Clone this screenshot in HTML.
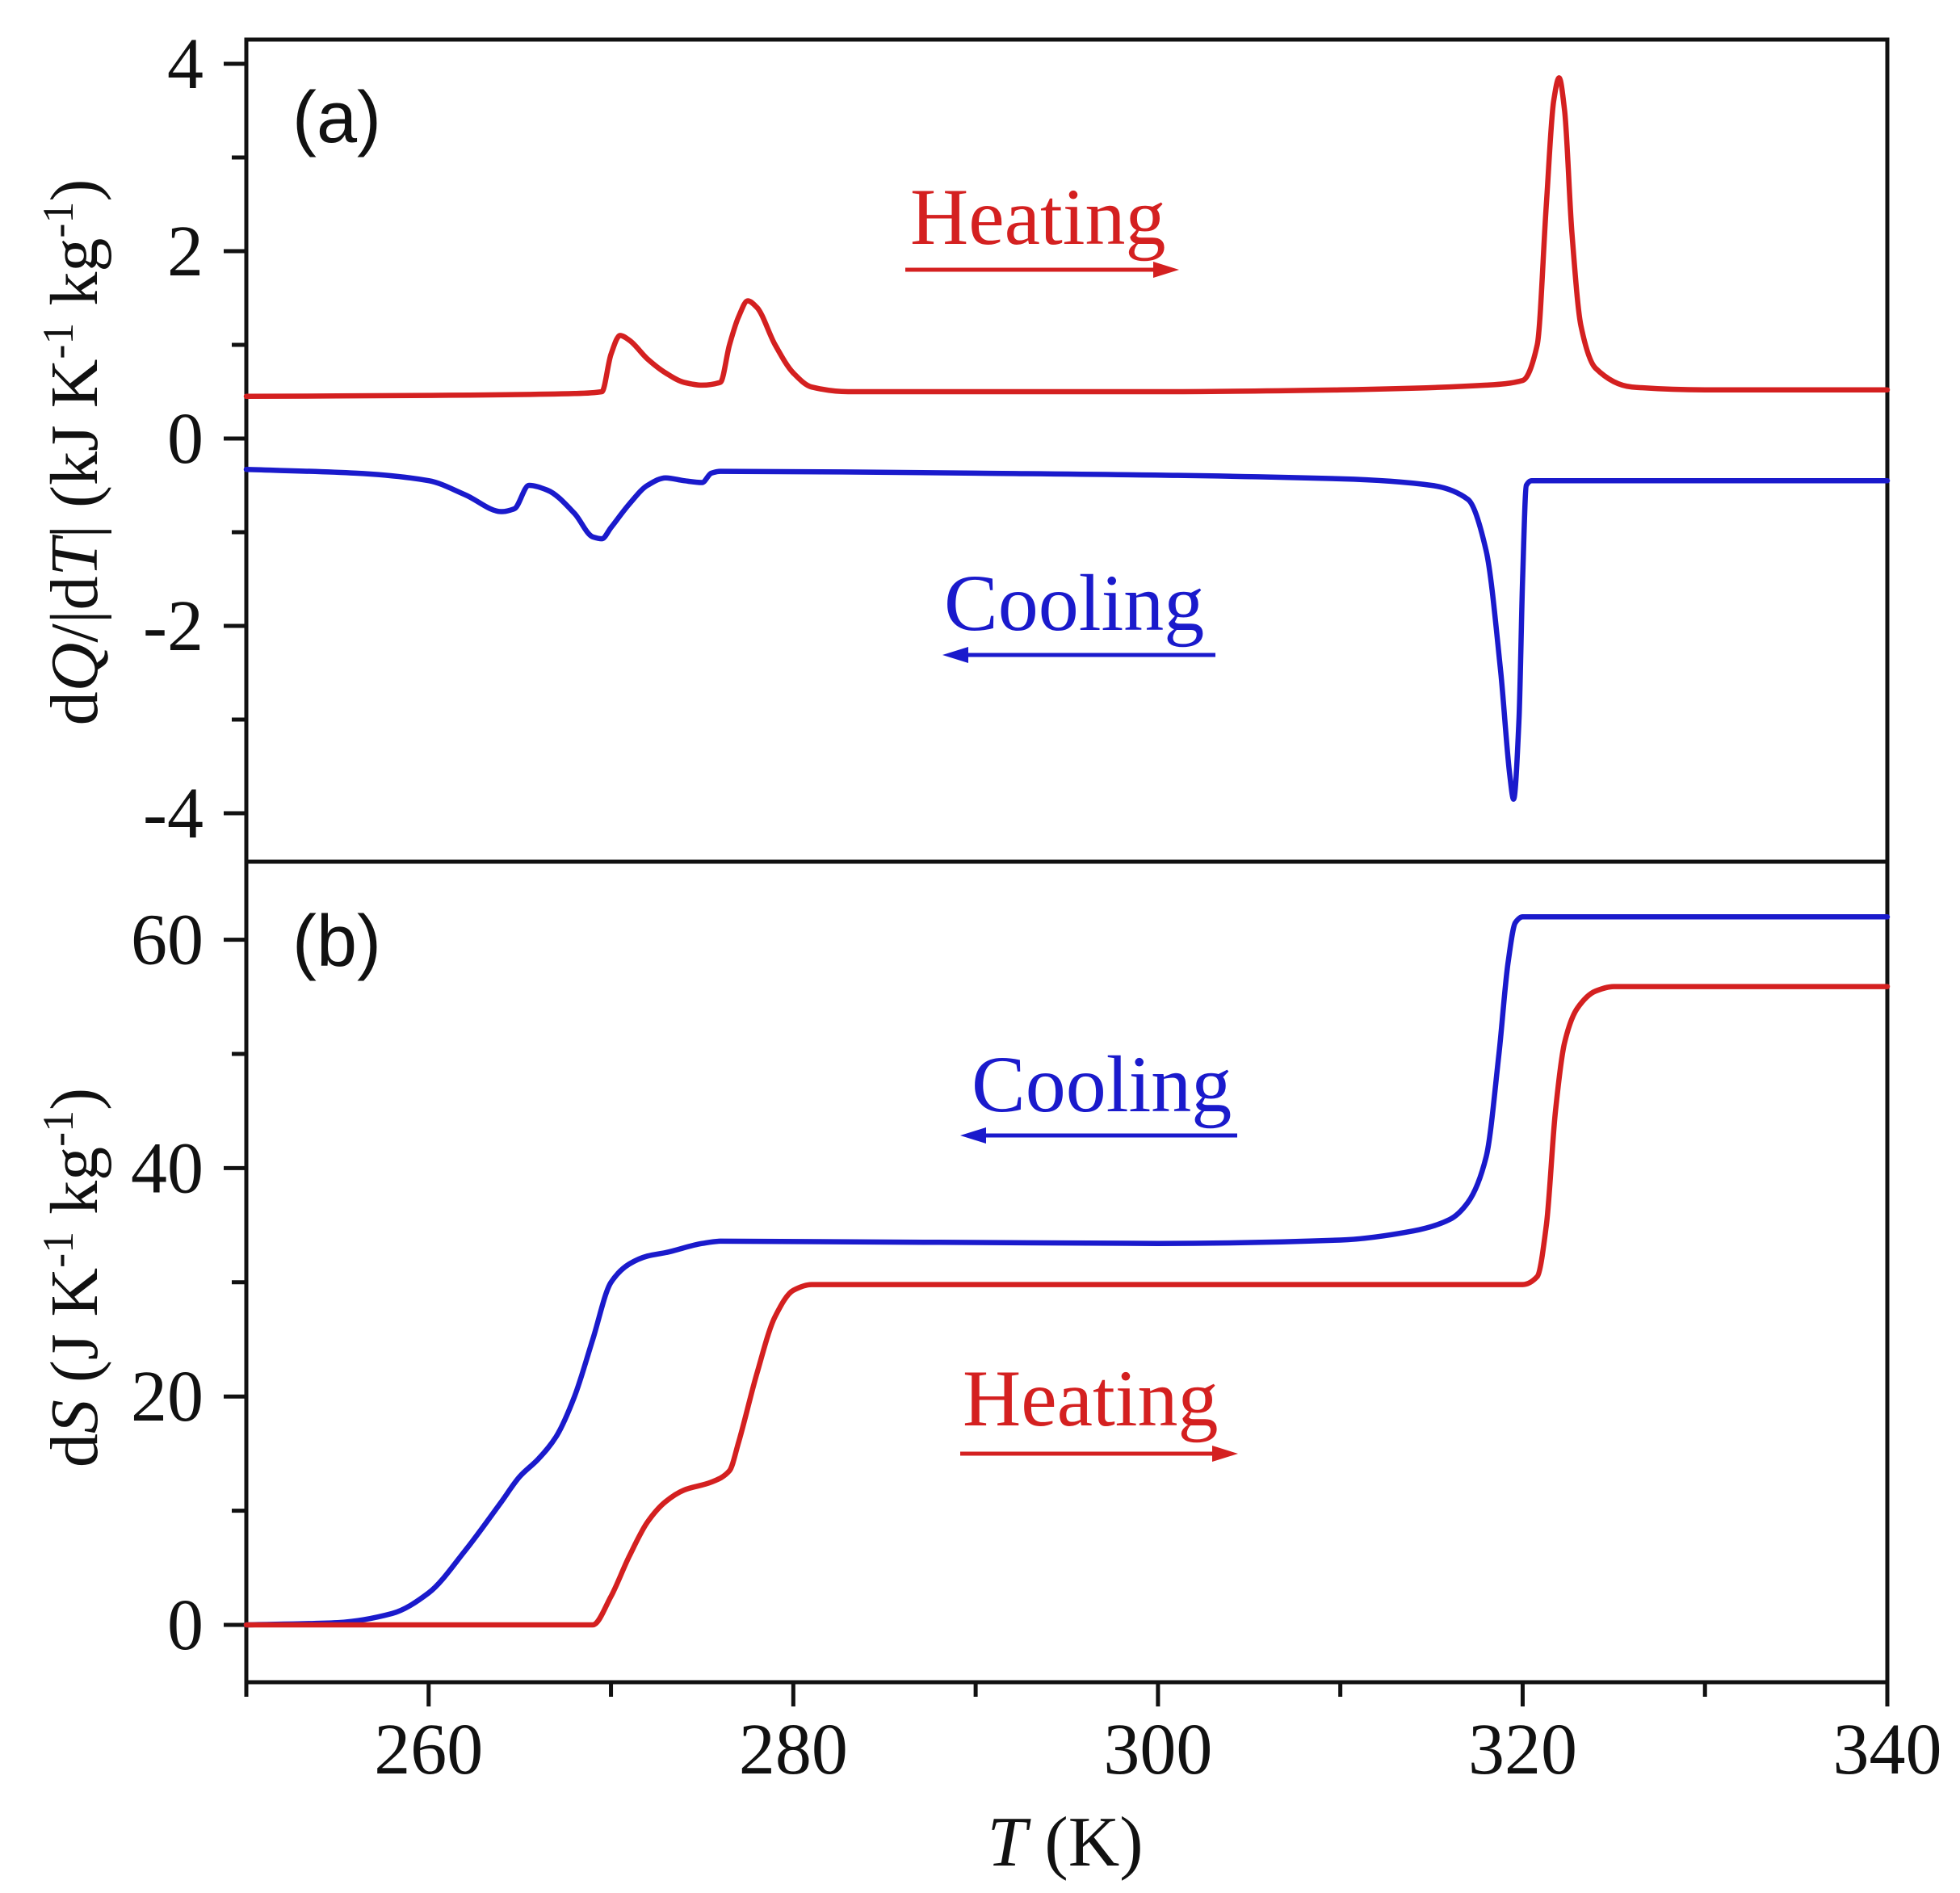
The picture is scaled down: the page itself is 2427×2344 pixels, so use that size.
<!DOCTYPE html>
<html><head><meta charset="utf-8"><style>
html,body{margin:0;padding:0;background:#fff}
svg{display:block}
text{font-family:"Liberation Serif",serif;fill:#111}
</style></head><body>
<svg id="chart" width="2427" height="2344" viewBox="0 0 2427 2344" xmlns="http://www.w3.org/2000/svg">
<g id="axes"></g>
<g id="series"></g>
<text x="362" y="176" style="font-family:'Liberation Sans',sans-serif" font-size="90">(a)</text>
<text x="362" y="1196" style="font-family:'Liberation Sans',sans-serif" font-size="90">(b)</text>
<text transform="translate(120,560) rotate(-90)" text-anchor="middle" font-size="84">d<tspan font-style="italic">Q</tspan>/|d<tspan font-style="italic">T</tspan>| (kJ K<tspan dy="-30" font-size="54">-1</tspan><tspan dy="30"> kg</tspan><tspan dy="-30" font-size="54">-1</tspan><tspan dy="30">)</tspan></text>
<text transform="translate(120,1582) rotate(-90)" text-anchor="middle" font-size="84">d<tspan font-style="italic">S</tspan> (J K<tspan dy="-30" font-size="54">-1</tspan><tspan dy="30"> kg</tspan><tspan dy="-30" font-size="54">-1</tspan><tspan dy="30">)</tspan></text>
<text x="1319" y="2310" text-anchor="middle" font-size="88"><tspan font-style="italic">T</tspan> (K)</text>
<g>
<text x="1127" y="302" font-size="100" style="fill:#d42020">Heating</text>
<line x1="1121" y1="334" x2="1430" y2="334" stroke="#d42020" stroke-width="5"/>
<polygon points="1460,334 1428,324 1428,344" fill="#d42020"/></g>
<g>
<text x="1169" y="780" font-size="100" style="fill:#1a1acc">Cooling</text>
<line x1="1195" y1="811" x2="1505" y2="811" stroke="#1a1acc" stroke-width="5"/>
<polygon points="1167,811 1199,801 1199,821" fill="#1a1acc"/></g>
<g>
<text x="1203" y="1376" font-size="100" style="fill:#1a1acc">Cooling</text>
<line x1="1215" y1="1406" x2="1532" y2="1406" stroke="#1a1acc" stroke-width="5"/>
<polygon points="1189,1406 1221,1396 1221,1416" fill="#1a1acc"/></g>
<g>
<text x="1192" y="1765" font-size="100" style="fill:#d42020">Heating</text>
<line x1="1189" y1="1800" x2="1505" y2="1800" stroke="#d42020" stroke-width="5"/>
<polygon points="1533,1800 1501,1790 1501,1810" fill="#d42020"/></g>
</svg>
<script>
const xTicks=[260,280,300,320,340];
const yTicksA=[4,2,0,-2,-4];
const yTicksB=[0,20,40,60];
const aHeatT=[250,260,268,269.5,270,270.5,271,272,273,274,275,276,276.5,277,277.5,278,279,280,281,283,290,300,310,318,320,320.8,321.3,321.7,322,322.3,322.7,323.2,324,326,330,340];
const aHeatV=[0.45,0.46,0.48,0.5,0.9,1.1,1.05,0.85,0.7,0.6,0.57,0.6,1.0,1.3,1.47,1.4,1.0,0.7,0.55,0.5,0.5,0.5,0.52,0.57,0.62,1.0,2.5,3.6,3.85,3.5,2.2,1.2,0.75,0.55,0.52,0.52];
const aCoolT=[250,256,260,262,264,264.7,265.5,266.5,268,269,269.5,270,271,272,273,274,275,275.5,276,290,310,315,317,318,318.8,319.3,319.5,319.8,320,320.2,320.5,340];
const aCoolV=[-0.33,-0.37,-0.45,-0.6,-0.78,-0.75,-0.5,-0.55,-0.8,-1.05,-1.07,-0.95,-0.7,-0.5,-0.42,-0.45,-0.47,-0.37,-0.35,-0.37,-0.43,-0.5,-0.65,-1.2,-2.5,-3.6,-3.85,-3.0,-1.5,-0.5,-0.45,-0.45];
const bCoolT=[250,255,258,260,262,264,265,266,267,268,269,270,271,272,273,275,276,300,310,314,316,317,318,318.7,319.2,319.6,320,340];
const bCoolV=[0,0.2,1,2.8,6.5,10.8,13,14.5,16.5,20,25,30,31.6,32.3,32.6,33.4,33.6,33.4,33.7,34.5,35.5,37,41,50,58,61.5,62,62];
const bHeatT=[250,268,269,270,271,272,273,274,275.5,276.5,277,278,279,280,281,300,320,320.8,321.3,321.8,322.3,323,324,325,340];
const bHeatV=[0,0,0,2.5,6,9,10.8,11.8,12.5,13.5,16,22,27,29.3,29.8,29.8,29.8,30.5,35,45,51,54,55.5,55.9,55.9];

const L=305,R=2337,TOP=49,MID=1067,BOT=2083;
const sx=t=>L+(t-250)*(R-L)/90;
const syA=v=>543-v*116;
const syB=v=>2012-v*14.14;
const NS='http://www.w3.org/2000/svg';
const axes=document.getElementById('axes'),series=document.getElementById('series');
function mk(p,tag,attrs){const e=document.createElementNS(NS,tag);for(const k in attrs)e.setAttribute(k,attrs[k]);p.appendChild(e);return e;}
const frame=mk(axes,'rect',{x:L,y:TOP,width:R-L,height:BOT-TOP,fill:'none',stroke:'#111','stroke-width':5});


const div=mk(axes,'line',{x1:L,y1:MID,x2:R,y2:MID,stroke:'#111','stroke-width':5});


for(let t=250;t<=340;t+=10){
  const major=xTicks.includes(t);
  const tk=mk(axes,'line',{x1:sx(t),y1:BOT,x2:sx(t),y2:BOT+(major?30:18),stroke:'#111','stroke-width':5});
  
  
  if(major){const tx=mk(axes,'text',{x:sx(t),y:2196,'text-anchor':'middle','font-size':90});tx.textContent=t;
  
  }
}
for(let v=-4;v<=4;v++){
  const major=yTicksA.includes(v);
  const tk=mk(axes,'line',{x1:L,y1:syA(v),x2:L-(major?28:18),y2:syA(v),stroke:'#111','stroke-width':5});
  
  
  if(major){const tx=mk(axes,'text',{x:252,y:syA(v)+30,'text-anchor':'end','font-size':90});tx.textContent=v;
  
  }
}
for(let v=0;v<=60;v+=10){
  const major=yTicksB.includes(v);
  const tk=mk(axes,'line',{x1:L,y1:syB(v),x2:L-(major?28:18),y2:syB(v),stroke:'#111','stroke-width':5});
  
  
  if(major){const tx=mk(axes,'text',{x:252,y:syB(v)+30,'text-anchor':'end','font-size':90});tx.textContent=v;
  
  }
}
function line(T,V,sy,color,name){
  const X=T.map(sx),Y=V.map(sy),n=X.length;
  const dl=[],m=[];
  for(let i=0;i<n-1;i++)dl.push((Y[i+1]-Y[i])/(X[i+1]-X[i]));
  m[0]=dl[0];m[n-1]=dl[n-2];
  for(let i=1;i<n-1;i++){
    if(dl[i-1]*dl[i]<=0)m[i]=0;
    else{const h0=X[i]-X[i-1],h1=X[i+1]-X[i];const w1=2*h1+h0,w2=h1+2*h0;m[i]=(w1+w2)/(w1/dl[i-1]+w2/dl[i]);}
  }
  let d='M'+X[0].toFixed(1)+','+Y[0].toFixed(1);
  for(let i=0;i<n-1;i++){
    const h=(X[i+1]-X[i])/3;
    d+='C'+(X[i]+h).toFixed(1)+','+(Y[i]+m[i]*h).toFixed(1)+' '+(X[i+1]-h).toFixed(1)+','+(Y[i+1]-m[i+1]*h).toFixed(1)+' '+X[i+1].toFixed(1)+','+Y[i+1].toFixed(1);
  }
  const p=mk(series,'path',{d:d,fill:'none',stroke:color,'stroke-width':6.5,'stroke-linejoin':'round','stroke-linecap':'round'});
  
  
}
line(aHeatT,aHeatV,syA,'#d42020','heating-dqdt-line');
line(aCoolT,aCoolV,syA,'#1a1acc','cooling-dqdt-line');
line(bCoolT,bCoolV,syB,'#1a1acc','cooling-entropy-line');
line(bHeatT,bHeatV,syB,'#d42020','heating-entropy-line');
</script>
</body></html>
